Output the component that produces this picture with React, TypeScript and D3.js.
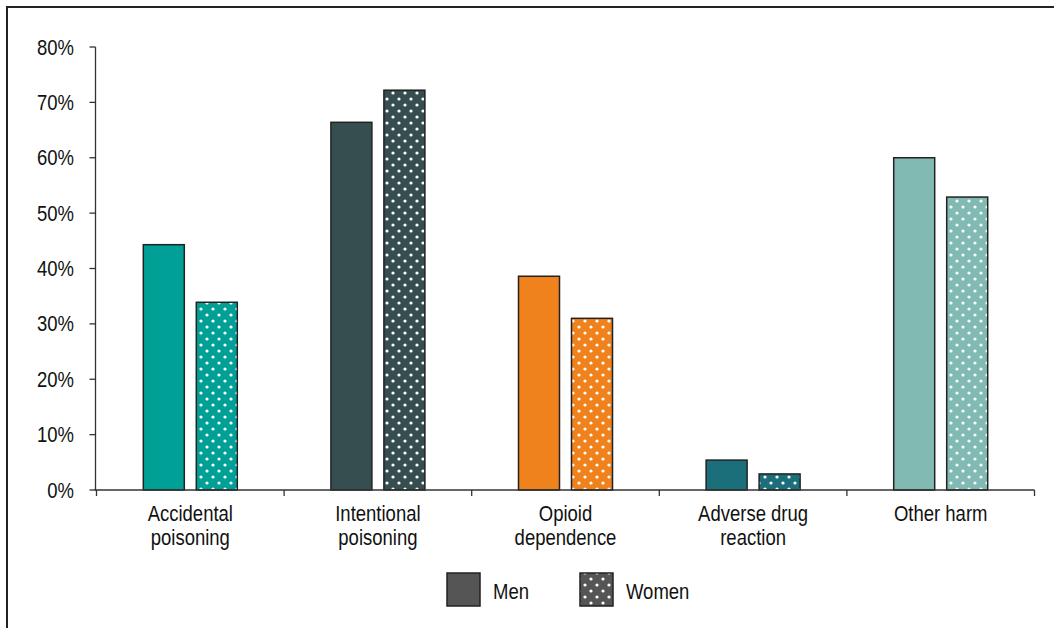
import React from "react";
import * as d3 from "d3";

const categories = ["Accidental poisoning", "Intentional poisoning", "Opioid dependence", "Adverse drug reaction", "Other harm"];
const categoryLines = [["Accidental", "poisoning"], ["Intentional", "poisoning"], ["Opioid", "dependence"], ["Adverse drug", "reaction"], ["Other harm"]];
const menValues = [44.3, 66.4, 38.6, 5.4, 60.0];
const womenValues = [33.9, 72.2, 31.0, 2.9, 52.9];
const colors = ["#00A096", "#374E51", "#F0821E", "#1B6F7B", "#80BAB3"];
const yTicks = [0, 10, 20, 30, 40, 50, 60, 70, 80];
const legendItems = ["Men", "Women"];

const W = 1054, H = 628;
const left = 95.5, right = 1034.5, top = 47, bottom = 490;
const SY = 1.17;

function T({ x, y, anchor, children }: { x: number; y: number; anchor?: string; children: React.ReactNode }) {
  return (
    <text transform={`translate(${x},${y}) scale(1,${SY})`} textAnchor={anchor || "start"} fontSize={18.5} fill="#111">
      {children}
    </text>
  );
}

export default function App() {
  const x = d3.scaleBand<string>().domain(categories).range([left + 1, right]).paddingInner(0).paddingOuter(0);
  const y = d3.scaleLinear().domain([0, 80]).range([bottom, top]);
  const bw = 41;
  const off = 26.5;
  const font = "Liberation Sans, Arial, sans-serif";
  const patId = (i: number) => `dots${i}`;
  return (
    <svg width={W} height={H} style={{ position: "absolute", left: 0, top: 0 }} fontFamily={font}>
      <defs>
        {[...colors, "#555555"].map((c, i) => (
          <pattern key={i} id={patId(i)} width={12} height={12} patternUnits="userSpaceOnUse">
            <rect width={12} height={12} fill={c} />
            <circle cx={3} cy={3} r={1.6} fill="#fff" />
            <circle cx={9} cy={9} r={1.6} fill="#fff" />
          </pattern>
        ))}
      </defs>
      <rect x={0} y={0} width={W} height={H} fill="#fff" />
      <line x1={7} x2={W} y1={7} y2={7} stroke="#222" strokeWidth={2} />
      <line x1={7} x2={7} y1={6} y2={H} stroke="#222" strokeWidth={2} />
      {/* y axis */}
      <line x1={left} x2={left} y1={top} y2={bottom} stroke="#333" strokeWidth={1.3} />
      {yTicks.map((t) => (
        <g key={t}>
          <line x1={left - 6} x2={left} y1={y(t)} y2={y(t)} stroke="#333" strokeWidth={1.3} />
          <T x={74} y={y(t) + 7.6} anchor="end">{t}%</T>
        </g>
      ))}
      {/* bars */}
      {categories.map((c, i) => {
        const cx = (x(c) as number) + x.bandwidth() / 2;
        return (
          <g key={c}>
            <rect x={cx - off - bw / 2} y={y(menValues[i])} width={bw} height={bottom - y(menValues[i])} fill={colors[i]} stroke="#222" strokeWidth={1.5} />
            <rect x={cx + off - bw / 2} y={y(womenValues[i])} width={bw} height={bottom - y(womenValues[i])} fill={`url(#${patId(i)})`} stroke="#222" strokeWidth={1.5} />
          </g>
        );
      })}
      {/* x axis */}
      <line x1={left - 1} x2={right} y1={bottom} y2={bottom} stroke="#333" strokeWidth={1.3} />
      {[...categories.map((c) => x(c) as number), right].map((v, i) => (
        <line key={i} x1={v} x2={v} y1={bottom} y2={bottom + 6} stroke="#333" strokeWidth={1.3} />
      ))}
      {categories.map((c, i) => {
        const cx = (x(c) as number) + x.bandwidth() / 2;
        return (
          <g key={c}>
            {categoryLines[i].map((l, j) => (
              <T key={j} x={cx} y={521 + j * 24} anchor="middle">{l}</T>
            ))}
          </g>
        );
      })}
      {/* legend */}
      {legendItems.map((l, i) => {
        const lx = 447 + i * 133;
        return (
          <g key={l}>
            <rect x={lx} y={573} width={33} height={33} fill={i === 0 ? "#555555" : `url(#${patId(colors.length)})`} stroke="#222" strokeWidth={1.5} />
            <T x={lx + 46} y={599}>{l}</T>
          </g>
        );
      })}
    </svg>
  );
}
